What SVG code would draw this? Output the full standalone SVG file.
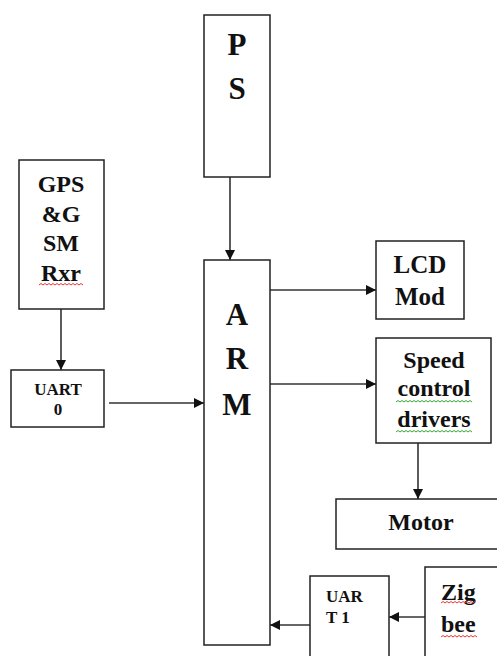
<svg xmlns="http://www.w3.org/2000/svg" width="497" height="656" viewBox="0 0 497 656">
<defs>
<style>
.box{fill:#fff;stroke:#222;stroke-width:1.5}
.t{font-family:"Liberation Serif","Tinos","Times New Roman","DejaVu Serif",serif;font-weight:bold;fill:#111}
.c{stroke:#333;stroke-width:1.6;fill:none}
.sq{fill:none;stroke-width:1}
</style>
<marker id="ah" viewBox="0 0 10 10" refX="10" refY="5" markerWidth="10" markerHeight="10" markerUnits="userSpaceOnUse" orient="auto">
<path d="M0,0 L10,5 L0,10 z" fill="#111"/>
</marker>
</defs>
<rect width="497" height="656" fill="#fff"/>
<g id="connectors">
<line class="c" x1="230" y1="177" x2="230" y2="260" marker-end="url(#ah)"/>
<line class="c" x1="61" y1="309" x2="61" y2="370" marker-end="url(#ah)"/>
<line class="c" x1="109" y1="403" x2="204" y2="403" marker-end="url(#ah)"/>
<line class="c" x1="270" y1="290" x2="376" y2="290" marker-end="url(#ah)"/>
<line class="c" x1="270" y1="384" x2="376" y2="384" marker-end="url(#ah)"/>
<line class="c" x1="418" y1="443" x2="418" y2="499" marker-end="url(#ah)"/>
<line class="c" x1="425" y1="617" x2="389" y2="617" marker-end="url(#ah)"/>
<line class="c" x1="310" y1="625" x2="270" y2="625" marker-end="url(#ah)"/>
</g>
<g id="ps">
<rect class="box" x="204" y="15" width="66" height="162"/>
<text class="t" x="237" y="55" font-size="31" text-anchor="middle">P</text>
<text class="t" x="237" y="99" font-size="31" text-anchor="middle">S</text>
</g>
<g id="arm">
<rect class="box" x="204" y="260" width="66" height="385"/>
<text class="t" x="237" y="325" font-size="31" text-anchor="middle">A</text>
<text class="t" x="237" y="369" font-size="31" text-anchor="middle">R</text>
<text class="t" x="237" y="415" font-size="31" text-anchor="middle">M</text>
</g>
<g id="gps">
<rect class="box" x="19" y="160" width="85" height="149"/>
<text class="t" x="61" y="192" font-size="24" text-anchor="middle">GPS</text>
<text class="t" x="61" y="222" font-size="24" text-anchor="middle">&amp;G</text>
<text class="t" x="61" y="251" font-size="24" text-anchor="middle">SM</text>
<text class="t" x="61" y="281" font-size="24" text-anchor="middle">Rxr</text>
<path class="sq" stroke="#e33" d="M39,285 l2,-1.5 l2,1.5 l2,-1.5 l2,1.5 l2,-1.5 l2,1.5 l2,-1.5 l2,1.5 l2,-1.5 l2,1.5 l2,-1.5 l2,1.5 l2,-1.5 l2,1.5 l2,-1.5 l2,1.5 l2,-1.5 l2,1.5 l2,-1.5 l2,1.5 l2,-1.5 l2,1.5"/>
</g>
<g id="uart0">
<rect class="box" x="11" y="370" width="93" height="57"/>
<text class="t" x="58" y="395" font-size="17" text-anchor="middle">UART</text>
<text class="t" x="58" y="415" font-size="17" text-anchor="middle">0</text>
</g>
<g id="lcd">
<rect class="box" x="376" y="241" width="88" height="78"/>
<text class="t" x="420" y="273" font-size="25" text-anchor="middle">LCD</text>
<text class="t" x="420" y="305" font-size="25" text-anchor="middle">Mod</text>
</g>
<g id="speed">
<rect class="box" x="376" y="338" width="115" height="105"/>
<text class="t" x="434" y="368" font-size="24" text-anchor="middle">Speed</text>
<text class="t" x="434" y="396" font-size="24" text-anchor="middle">control</text>
<text class="t" x="434" y="427" font-size="24" text-anchor="middle">drivers</text>
<path class="sq" stroke="#3a3" d="M396,402 l2,-1.5 l2,1.5 l2,-1.5 l2,1.5 l2,-1.5 l2,1.5 l2,-1.5 l2,1.5 l2,-1.5 l2,1.5 l2,-1.5 l2,1.5 l2,-1.5 l2,1.5 l2,-1.5 l2,1.5 l2,-1.5 l2,1.5 l2,-1.5 l2,1.5 l2,-1.5 l2,1.5 l2,-1.5 l2,1.5 l2,-1.5 l2,1.5 l2,-1.5 l2,1.5 l2,-1.5 l2,1.5 l2,-1.5 l2,1.5 l2,-1.5 l2,1.5 l2,-1.5 l2,1.5 l2,-1.5 l2,1.5"/>
<path class="sq" stroke="#3a3" d="M396,432 l2,-1.5 l2,1.5 l2,-1.5 l2,1.5 l2,-1.5 l2,1.5 l2,-1.5 l2,1.5 l2,-1.5 l2,1.5 l2,-1.5 l2,1.5 l2,-1.5 l2,1.5 l2,-1.5 l2,1.5 l2,-1.5 l2,1.5 l2,-1.5 l2,1.5 l2,-1.5 l2,1.5 l2,-1.5 l2,1.5 l2,-1.5 l2,1.5 l2,-1.5 l2,1.5 l2,-1.5 l2,1.5 l2,-1.5 l2,1.5 l2,-1.5 l2,1.5 l2,-1.5 l2,1.5 l2,-1.5 l2,1.5"/>
</g>
<g id="motor">
<rect class="box" x="336" y="499" width="170" height="50"/>
<text class="t" x="421" y="530" font-size="24" text-anchor="middle">Motor</text>
</g>
<g id="uart1">
<rect class="box" x="310" y="576" width="79" height="90"/>
<text class="t" x="326" y="602" font-size="17">UAR</text>
<text class="t" x="326" y="623" font-size="17">T 1</text>
</g>
<g id="zigbee">
<rect class="box" x="425" y="567" width="90" height="100"/>
<text class="t" x="441" y="600" font-size="24">Zig</text>
<text class="t" x="441" y="632" font-size="24">bee</text>
<path class="sq" stroke="#e33" d="M441,603 l2,-1.5 l2,1.5 l2,-1.5 l2,1.5 l2,-1.5 l2,1.5 l2,-1.5 l2,1.5 l2,-1.5 l2,1.5 l2,-1.5 l2,1.5 l2,-1.5 l2,1.5 l2,-1.5 l2,1.5 l2,-1.5"/>
<path class="sq" stroke="#e33" d="M441,637 l2,-1.5 l2,1.5 l2,-1.5 l2,1.5 l2,-1.5 l2,1.5 l2,-1.5 l2,1.5 l2,-1.5 l2,1.5 l2,-1.5 l2,1.5 l2,-1.5 l2,1.5 l2,-1.5 l2,1.5 l2,-1.5 l2,1.5"/>
</g>
</svg>
